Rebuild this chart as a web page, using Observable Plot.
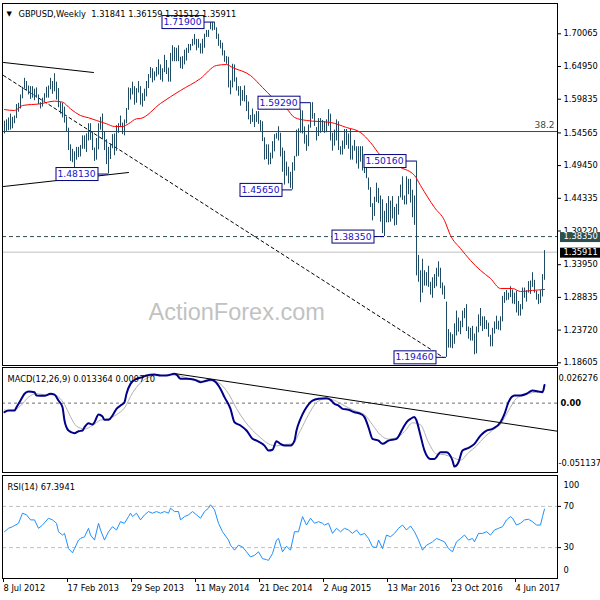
<!DOCTYPE html>
<html><head><meta charset="utf-8">
<script src="https://cdn.jsdelivr.net/npm/d3@7"></script>
<script src="https://cdn.jsdelivr.net/npm/@observablehq/plot@0.6"></script>
<style>
body{margin:0;background:#fff;}
#chart{position:relative;width:600px;height:600px;overflow:hidden;background:#fff;}
#chart svg{display:block;}
</style></head><body><div id="chart"></div>
<script>
// ---------- DATA ----------
const symbol = "GBPUSD", period = "Weekly";
const lastBar = [1.31841, 1.36159, 1.31512, 1.35911]; // O H L C
// weekly highs / lows, week 0 = 8 Jul 2012
const hi = [
1.5640,1.5660,1.5690,1.5750,1.5700,1.5720,1.5900,1.5920,1.6050,1.6170,
1.6310,1.6260,1.6190,1.6180,1.6180,1.6140,1.6160,1.6050,1.5930,1.6000,
1.6070,1.6170,1.6190,1.6310,1.6260,1.6381,1.6250,1.6150,1.5930,1.5920,
1.5860,1.5700,1.5530,1.5270,1.5200,1.5160,1.5230,1.5230,1.5260,1.5410,
1.5410,1.5440,1.5600,1.5600,1.5470,1.5220,1.5370,1.5600,1.5700,1.5752,
1.5480,1.5350,1.5230,1.5280,1.5430,1.5440,1.5570,1.5600,1.5720,1.5610,
1.5660,1.5840,1.6160,1.6150,1.6250,1.6180,1.6150,1.6260,1.6180,1.6070,
1.6140,1.6260,1.6370,1.6480,1.6460,1.6410,1.6480,1.6600,1.6520,1.6460,
1.6670,1.6590,1.6470,1.6700,1.6820,1.6790,1.6780,1.6820,1.6640,1.6650,
1.6750,1.6780,1.6840,1.6840,1.6920,1.6996,1.6920,1.6920,1.6850,1.6920,
1.7000,1.7060,1.7060,1.7180,1.7180,1.7190,1.7100,1.7000,1.6900,1.6860,
1.6740,1.6650,1.6640,1.6270,1.6530,1.6520,1.6320,1.6180,1.6180,1.6120,
1.6190,1.6040,1.5940,1.5730,1.5830,1.5740,1.5790,1.5790,1.5650,1.5630,
1.5380,1.5270,1.5270,1.5140,1.5320,1.5430,1.5450,1.5552,1.5450,1.5220,
1.5170,1.5000,1.4920,1.4840,1.4990,1.5090,1.5500,1.5520,1.5815,1.5800,
1.5550,1.5420,1.5580,1.5929,1.5930,1.5760,1.5540,1.5680,1.5680,1.5650,
1.5630,1.5660,1.5820,1.5750,1.5450,1.5500,1.5660,1.5630,1.5240,1.5330,
1.5510,1.5510,1.5440,1.5510,1.5250,1.5340,1.5240,1.5240,1.5240,1.5240,
1.4990,1.4920,1.4750,1.4600,1.4350,1.4450,1.4670,1.4590,1.4470,1.4410,
1.4230,1.4350,1.4460,1.4390,1.4460,1.4290,1.4340,1.4460,1.4640,1.4770,
1.4470,1.4770,1.4730,1.4730,1.4560,1.4470,1.5016,1.3540,1.3300,1.3480,
1.3300,1.3270,1.3370,1.3120,1.3190,1.3240,1.3340,1.3440,1.3340,1.3110,
1.3060,1.2810,1.2380,1.2330,1.2300,1.2470,1.2670,1.2560,1.2510,1.2670,
1.2710,1.2770,1.2420,1.2400,1.2430,1.2310,1.2420,1.2610,1.2710,1.2580,
1.2580,1.2520,1.2480,1.2290,1.2400,1.2500,1.2590,1.2510,1.2580,1.2900,
1.2960,1.2990,1.2950,1.3050,1.3000,1.2950,1.2980,1.2820,1.2770,1.3030,
1.3030,1.2990,1.3130,1.3140,1.3270,1.3150,1.2980,1.2930,1.2990,1.3240,
1.36159];
const lo = [
1.5440,1.5480,1.5490,1.5500,1.5520,1.5600,1.5680,1.5780,1.5830,1.5990,
1.6150,1.6110,1.6050,1.5980,1.6000,1.5960,1.6000,1.5900,1.5830,1.5860,
1.5950,1.6000,1.6000,1.6130,1.6060,1.6100,1.5970,1.5850,1.5750,1.5690,
1.5610,1.5470,1.5180,1.5010,1.4990,1.4831,1.5030,1.5070,1.5080,1.5200,
1.5200,1.5150,1.5330,1.5340,1.5180,1.5010,1.5030,1.5190,1.5500,1.5350,
1.5180,1.4960,1.4813,1.5040,1.5210,1.5100,1.5170,1.5450,1.5540,1.5430,
1.5410,1.5600,1.5810,1.5970,1.6050,1.5890,1.5920,1.6080,1.5890,1.5860,
1.5950,1.6020,1.6150,1.6310,1.6240,1.6270,1.6330,1.6360,1.6280,1.6250,
1.6400,1.6370,1.6250,1.6250,1.6570,1.6570,1.6570,1.6570,1.6460,1.6450,
1.6520,1.6580,1.6700,1.6740,1.6810,1.6830,1.6740,1.6780,1.6690,1.6690,
1.6780,1.6950,1.6950,1.7070,1.7050,1.7060,1.6920,1.6810,1.6770,1.6660,
1.6560,1.6530,1.6160,1.6052,1.6160,1.6250,1.6110,1.6030,1.5875,1.5950,
1.5940,1.5790,1.5660,1.5590,1.5620,1.5540,1.5620,1.5590,1.5480,1.5320,
1.5030,1.5040,1.4952,1.4960,1.5050,1.5160,1.5360,1.5330,1.5080,1.4840,
1.4640,1.4780,1.4660,1.4590,1.4565,1.4860,1.5080,1.5090,1.5450,1.5440,
1.5280,1.5170,1.5240,1.5530,1.5670,1.5560,1.5330,1.5400,1.5450,1.5480,
1.5450,1.5460,1.5560,1.5330,1.5170,1.5250,1.5330,1.5180,1.5110,1.5110,
1.5200,1.5260,1.5200,1.5030,1.5030,1.5170,1.4970,1.4890,1.5000,1.4860,
1.4820,1.4740,1.4560,1.4290,1.4080,1.4150,1.4370,1.4350,1.4060,1.3880,
1.3835,1.4050,1.4050,1.4060,1.4110,1.4000,1.4010,1.4170,1.4440,1.4400,
1.4330,1.4330,1.4490,1.4360,1.4130,1.4010,1.3220,1.3120,1.2800,1.2950,
1.3060,1.3060,1.3040,1.2920,1.2870,1.3020,1.3050,1.3200,1.3020,1.2920,
1.2850,1.1946,1.2090,1.2090,1.2080,1.2150,1.2280,1.2340,1.2300,1.2410,
1.2550,1.2350,1.2230,1.2200,1.2200,1.1986,1.2000,1.2330,1.2430,1.2350,
1.2380,1.2380,1.2260,1.2110,1.2110,1.2310,1.2380,1.2370,1.2360,1.2500,
1.2790,1.2830,1.2840,1.2880,1.2780,1.2770,1.2640,1.2590,1.2590,1.2690,
1.2870,1.2810,1.2950,1.2930,1.3040,1.2950,1.2840,1.2770,1.2790,1.2890,
1.31512];

// red moving average
const maIdx = [0,5,9,18,25,29,33,38,42,46,51,55,59,62,66,68,78,88,98,106,111,114,123,129,134,141,145,151,163,171,178,183,188,194,198,205,208,215,220,223,228,233,238,243,248,254,258,264,270];
const maVal = [1.5821,1.5807,1.5885,1.5912,1.5953,1.5937,1.5833,1.5729,1.5693,1.5651,1.5599,1.5557,1.5557,1.5599,1.5677,1.5682,1.5917,1.6120,1.6307,1.6511,1.6526,1.6479,1.6354,1.6167,1.6010,1.5838,1.5698,1.5651,1.5620,1.5541,1.5463,1.5307,1.5103,1.4978,1.4916,1.4791,1.4634,1.4290,1.4086,1.3852,1.3649,1.3461,1.3305,1.3180,1.3023,1.3023,1.2976,1.2992,1.3008];

// swing labels
const peakIdx = [52,105,144,153,190,206,221];
const peakVal = [1.4813,1.7190,1.4565,1.5929,1.3835,1.5016,1.1946];

// levels & trendlines
const fibLevel = 1.5478, fibLabel = "38.2";
const supportLevel = 1.3835;
const upperIdx = [-0.5, 44.5], upperVal = [1.6558, 1.6401];
const lowerIdx = [-0.5, 62], lowerVal = [1.4618, 1.4837];
const dashIdx = [-0.5, 219.5], dashVal = [1.6354, 1.1943];
const priceTicks = [1.18605,1.23720,1.28835,1.33950,1.39220,1.44335,1.49450,1.54565,1.59835,1.64950,1.70065];

// MACD
const macdIdx = [0,2,5,6,8,10,12,15,16,20,23,25,27,29,30,32,35,37,39,40,42,44,45,47,49,50,52,54,56,58,60,61,63,66,69,71,75,78,81,85,86,88,91,95,98,100,103,105,108,110,113,115,118,121,124,126,130,132,134,136,138,140,143,145,146,148,150,154,157,161,163,165,167,169,172,175,178,180,182,184,187,189,192,196,199,201,203,205,206,208,210,213,215,218,221,224,225,227,229,232,235,238,241,244,248,250,252,255,258,261,264,267,269,270];
const macdVal = [-0.0067,-0.0055,-0.0055,-0.0030,0.0019,0.0069,0.0086,0.0080,0.0056,0.0054,0.0069,0.0063,0.0019,-0.0030,-0.0128,-0.0202,-0.0222,-0.0207,-0.0202,-0.0178,-0.0148,-0.0158,-0.0141,-0.0084,-0.0099,-0.0123,-0.0123,-0.0091,-0.0042,-0.0018,0.0007,0.0069,0.0142,0.0179,0.0191,0.0204,0.0211,0.0204,0.0204,0.0216,0.0211,0.0179,0.0179,0.0172,0.0154,0.0162,0.0172,0.0162,0.0105,0.0044,-0.0042,-0.0141,-0.0165,-0.0202,-0.0263,-0.0276,-0.0313,-0.0350,-0.0344,-0.0281,-0.0300,-0.0313,-0.0313,-0.0276,-0.0202,-0.0116,-0.0055,0.0019,0.0032,0.0036,0.0024,-0.0005,-0.0018,-0.0042,-0.0049,-0.0067,-0.0079,-0.0103,-0.0178,-0.0263,-0.0276,-0.0300,-0.0276,-0.0263,-0.0190,-0.0141,-0.0116,-0.0103,-0.0128,-0.0239,-0.0350,-0.0411,-0.0411,-0.0362,-0.0362,-0.0423,-0.0468,-0.0436,-0.0350,-0.0330,-0.0300,-0.0239,-0.0202,-0.0190,-0.0141,-0.0079,0.0007,0.0056,0.0056,0.0069,0.0093,0.0086,0.0080,0.013364];
const sigIdx = [0,4,8,12,16,20,24,27,30,33,36,40,44,48,52,56,60,64,68,72,76,80,84,88,92,96,100,104,108,112,116,120,124,128,132,136,140,144,148,152,156,160,164,168,172,176,180,184,188,192,196,200,204,208,212,216,220,224,228,232,236,240,244,248,252,256,260,264,268,270];
const sigVal = [-0.0050,-0.0055,-0.0020,0.0045,0.0070,0.0062,0.0062,0.0045,-0.0010,-0.0100,-0.0170,-0.0190,-0.0165,-0.0125,-0.0115,-0.0085,-0.0035,0.0075,0.0150,0.0190,0.0203,0.0204,0.0208,0.0200,0.0183,0.0172,0.0160,0.0165,0.0140,0.0070,-0.0040,-0.0130,-0.0200,-0.0255,-0.0300,-0.0315,-0.0305,-0.0300,-0.0200,-0.0085,0.0005,0.0030,0.0025,-0.0003,-0.0035,-0.0060,-0.0085,-0.0160,-0.0235,-0.0265,-0.0255,-0.0210,-0.0145,-0.0160,-0.0290,-0.0375,-0.0380,-0.0400,-0.0420,-0.0365,-0.0315,-0.0250,-0.0200,-0.0155,-0.0055,0.0035,0.0060,0.0078,0.0085,0.009710];
const macdMax = 0.026276, macdMin = -0.051137;
const macdTrendIdx = [86, 276.5], macdTrendVal = [0.0216, -0.0207];

// RSI(14)
const rsiIdx = [0,2,4,7,9,11,13,15,17,19,22,24,26,27,29,30,32,34,35,37,38,40,42,43,45,47,48,50,52,54,56,58,60,62,63,64,66,68,70,72,74,76,78,80,82,83,85,87,88,90,92,94,96,98,100,102,103,105,107,109,112,113,115,117,119,121,123,125,127,129,131,132,134,136,137,139,141,143,145,147,149,151,153,155,157,159,160,162,164,166,168,170,172,174,176,178,180,182,184,186,187,189,191,193,195,197,199,201,203,205,207,209,211,212,214,216,218,220,222,224,226,228,230,232,234,235,237,239,241,243,245,247,249,251,253,254,256,258,260,262,264,266,268,269,270];
const rsiVal = [45.4,48.7,50.3,53.6,63.4,61.8,56.9,56.9,48.7,51.9,58.5,56.9,53.6,45.4,42.2,43.8,29.1,24.9,29.1,37.3,38.9,40.5,48.7,42.2,37.3,53.6,47.1,37.3,45.4,50.3,47.1,55.2,53.6,60.1,63.4,60.1,63.4,56.9,61.8,65.0,63.4,65.0,63.4,65.0,63.4,68.3,65.0,65.0,56.9,60.1,61.8,65.0,61.8,58.5,65.0,68.3,71.6,66.7,53.6,45.4,37.3,32.4,27.5,32.4,30.7,25.9,20.9,22.5,25.9,19.3,18.3,17.6,24.2,37.3,38.9,25.9,31.4,27.5,45.4,45.4,60.1,51.9,58.5,53.6,55.2,53.6,51.9,53.6,43.8,48.7,45.4,48.7,47.1,43.8,47.1,42.2,43.8,38.9,30.7,30.1,37.3,29.1,42.2,40.5,43.8,48.7,51.9,47.1,51.0,45.4,37.3,27.5,32.4,33.3,35.6,38.9,37.3,35.6,29.1,25.9,35.6,38.9,42.2,37.3,38.9,35.6,43.8,43.8,45.4,42.2,47.1,48.7,50.3,56.9,60.1,58.5,51.9,53.6,56.9,57.5,55.2,51.9,51.9,60.1,67.3941];
const rsiLevels = [70, 30];
const rsiLast = 67.3941;

// time axis
const tickIdx = [0,32,64,96,128,160,192,224,256];
const tickLabels = ["8 Jul 2012","17 Feb 2013","29 Sep 2013","11 May 2014","21 Dec 2014","2 Aug 2015","13 Mar 2016","23 Oct 2016","4 Jun 2017"];

// ---------- BUILD ----------
const FONT = "DejaVu Sans";
const FS = "8.3px";
const XDOM = [-1, 276.5];
const BAR = "#1e4b63";
const PEAK_TEXT = "#1414c8", BADGE_A = "#fffffe", BADGE_B = "#fffffd";
const bars = hi.map((h, i) => ({i, h, l: lo[i]}));
const pairs = (a, b) => a.map((i, k) => ({i, v: b[k]}));
const ma = pairs(maIdx, maVal);
const peaks = pairs(peakIdx, peakVal);
const common = {width: 600, marginLeft: 2, marginRight: 43,
  style: {fontFamily: FONT, fontSize: FS, background: "white", color: "black"}};

const main = Plot.plot({
  ...common, height: 366, marginTop: 3, marginBottom: 1,
  x: {domain: XDOM, axis: null},
  y: {domain: [1.18183, 1.74805], axis: null},
  marks: [
    Plot.text(["ActionForex.com"], {frameAnchor: "bottom-left", dx: 146, dy: -46, textAnchor: "start",
      fontSize: 23.5, fontFamily: "Liberation Sans", fill: "#c2c2c2"}),
    Plot.ruleY([fibLevel], {stroke: "#2f4f4f"}),
    Plot.text([fibLabel], {y: () => fibLevel, frameAnchor: "right", textAnchor: "end", dx: -3, dy: -6, fill: "#2f4f4f", fontSize: 9}),
    Plot.ruleY([supportLevel], {stroke: "#2f4f4f", strokeDasharray: "4,3"}),
    Plot.ruleY([lastBar[3]], {stroke: "#c0c0c0"}),
    Plot.line(pairs(dashIdx, dashVal), {x: "i", y: "v", stroke: "black", strokeWidth: 1, strokeDasharray: "3,3"}),
    Plot.line(pairs(upperIdx, upperVal), {x: "i", y: "v", stroke: "black", strokeWidth: 1}),
    Plot.line(pairs(lowerIdx, lowerVal), {x: "i", y: "v", stroke: "black", strokeWidth: 1}),
    Plot.ruleX(bars, {x: "i", y1: "l", y2: "h", stroke: BAR}),
    Plot.line(ma, {x: "i", y: "v", stroke: "#ff0000", strokeWidth: 1, curve: "monotone-x"}),
    Plot.ruleY(peaks, {y: "v", x1: "i", x2: "i", insetLeft: -10, stroke: "#000080"}),
    Plot.text(peaks, {x: "i", y: "v", text: d => d.v.toFixed(5), textAnchor: "end", dx: -13,
      fill: PEAK_TEXT, fontSize: 9.2}),
    Plot.axisY({anchor: "right", ticks: priceTicks, tickFormat: d => d.toFixed(5), tickSize: 3, tickPadding: 3, label: null}),
    Plot.text([supportLevel], {y: d => d, frameAnchor: "right", dx: 6, textAnchor: "start",
      text: d => d.toFixed(5), fill: BADGE_A}),
    Plot.text([lastBar[3]], {y: d => d, frameAnchor: "right", dx: 6, textAnchor: "start",
      text: d => d.toFixed(5), fill: BADGE_B}),
    Plot.text(["\u25BC"], {frameAnchor: "top-left", dx: 4, dy: 8, textAnchor: "start", fontSize: 7}),
    Plot.text([`${symbol},${period}\u00a0\u00a0${lastBar.map(v => v.toFixed(5)).join(" ")}`],
      {frameAnchor: "top-left", dx: 16, dy: 8, textAnchor: "start"}),
    Plot.frame({stroke: "black"})
  ]
});

const macdPlot = Plot.plot({
  ...common, height: 107, marginTop: 1, marginBottom: 1,
  x: {domain: XDOM, axis: null},
  y: {domain: [macdMin, macdMax], axis: null},
  marks: [
    Plot.ruleY([0], {stroke: "#707070", strokeDasharray: "3,3"}),
    Plot.line(pairs(sigIdx, sigVal), {x: "i", y: "v", stroke: "#b0b0b0", strokeWidth: 1, curve: "monotone-x"}),
    Plot.line(pairs(macdIdx, macdVal), {x: "i", y: "v", stroke: "#000088", strokeWidth: 2, curve: "monotone-x"}),
    Plot.line(pairs(macdTrendIdx, macdTrendVal), {x: "i", y: "v", stroke: "black", strokeWidth: 1}),
    Plot.text([`MACD(12,26,9) ${macdVal[macdVal.length-1].toFixed(6)} ${sigVal[sigVal.length-1].toFixed(6)}`],
      {frameAnchor: "top-left", dx: 5, dy: 9, textAnchor: "start"}),
    Plot.text([macdMax], {frameAnchor: "top-right", dx: 1, dy: 8, textAnchor: "start", text: d => d.toFixed(6)}),
    Plot.text([macdMin], {frameAnchor: "bottom-right", dx: 1, dy: -7, textAnchor: "start", text: d => d.toFixed(6)}),
    Plot.text([0], {y: d => d, frameAnchor: "right", dx: 3, textAnchor: "start", text: d => d.toFixed(2), fontWeight: "bold"}),
    Plot.frame({stroke: "black"})
  ]
});

const rsiPlot = Plot.plot({
  ...common, height: 127, marginTop: 2, marginBottom: 22,
  x: {domain: XDOM, axis: null},
  y: {domain: [0, 100], axis: null},
  marks: [
    Plot.ruleY(rsiLevels, {stroke: "#c0c0c0", strokeDasharray: "4,3"}),
    Plot.line(pairs(rsiIdx, rsiVal), {x: "i", y: "v", stroke: "#1e90ff", strokeWidth: 1}),
    Plot.text([`RSI(14) ${rsiLast.toFixed(4)}`], {frameAnchor: "top-left", dx: 5, dy: 9, textAnchor: "start"}),
    Plot.axisY({anchor: "right", ticks: rsiLevels, tickSize: 3, tickPadding: 3, label: null}),
    Plot.text([100], {frameAnchor: "top-right", dx: 6, dy: 7, textAnchor: "start"}),
    Plot.text([0], {frameAnchor: "bottom-right", dx: 6, dy: -6, textAnchor: "start"}),
    Plot.axisX({ticks: tickIdx, tickFormat: d => tickLabels[tickIdx.indexOf(d)], textAnchor: "start",
      tickSize: 4, tickPadding: 3, dx: -1, label: null}),
    Plot.frame({stroke: "black"})
  ]
});

const root = document.getElementById("chart");
[main, macdPlot, rsiPlot].forEach(s => root.appendChild(s));

function boxify(svg, fillColor, o) {
  const texts = [];
  svg.querySelectorAll("text").forEach(t => {
    let el = t, f = null;
    while (el && el !== svg) {
      const a = el.getAttribute && el.getAttribute("fill");
      if (a) { f = a; break; }
      el = el.parentNode;
    }
    if (f && f.toLowerCase() === fillColor) texts.push(t);
  });
  texts.forEach(t => {
    const bb = t.getBBox();
    const r = document.createElementNS("http://www.w3.org/2000/svg", "rect");
    r.setAttribute("x", Math.round(bb.x - o.padL) + 0.5);
    r.setAttribute("y", Math.round(bb.y - o.padT) + 0.5);
    r.setAttribute("width", Math.round(bb.width + o.padL + o.padR));
    r.setAttribute("height", Math.round(bb.height + 2 * o.padT));
    r.setAttribute("fill", o.fill);
    r.setAttribute("stroke", o.stroke);
    const tr = t.getAttribute("transform");
    if (tr) r.setAttribute("transform", tr);
    t.parentNode.insertBefore(r, t);
  });
}
boxify(main, PEAK_TEXT, {padL: 2, padR: 2, padT: 1, fill: "white", stroke: "#000080"});
boxify(main, BADGE_A, {padL: 4, padR: 10, padT: 0, fill: "#2f4f4f", stroke: "none"});
boxify(main, BADGE_B, {padL: 4, padR: 10, padT: 0, fill: "black", stroke: "none"});
</script></body></html>
